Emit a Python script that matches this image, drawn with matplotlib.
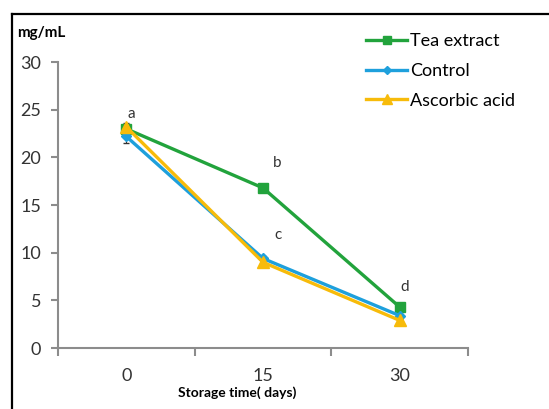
import matplotlib

matplotlib.use("Agg")
import matplotlib.pyplot as plt
from matplotlib.lines import Line2D

plt.rcParams["font.family"] = ["Lato", "DejaVu Sans"]

# data
days = [0, 15, 30]
tea_extract = [23.0, 16.8, 4.3]
control = [22.2, 9.4, 3.4]
ascorbic_acid = [23.2, 9.0, 2.9]
tea_err = [0.3, 0.2, 0.2]
control_err = [0.7, 0.3, 0.2]
ascorbic_err = [0.4, 0.2, 0.2]
letters = ["a", "b", "c", "d"]
letter_x = [0.6, 16.5, 16.6, 30.5]
letter_y = [24.6, 19.4, 11.9, 6.4]

green = "#22a33c"
blue = "#1ea0dc"
yellow = "#f7bb0a"
axis_grey = "#8c8c8c"

fig = plt.figure(figsize=(5.49, 4.09), dpi=100)
ax = fig.add_axes([0.1056, 0.149, 0.747, 0.699])

series = [
    (tea_extract, tea_err, green, "s", 7, "Tea extract"),
    (control, control_err, blue, "D", 5, "Control"),
    (ascorbic_acid, ascorbic_err, yellow, "^", 8, "Ascorbic acid"),
]
handles = []
for vals, err, col, mk, ms, lab in series:
    ax.errorbar(days, vals, yerr=err, color=col, lw=2.4, marker=mk, ms=ms,
                ecolor="#333333", elinewidth=0.8, capsize=2.5)
    handles.append(Line2D([], [], color=col, lw=2.4, marker=mk, ms=ms - 1, label=lab))

for t, lx, ly in zip(letters, letter_x, letter_y):
    ax.text(lx, ly, t, fontsize=11, color="#333333", ha="center", va="center")

ax.set_xlim(-7.5, 37.5)
ax.set_ylim(0, 30)
ax.set_xticks([-7.5, 7.5, 22.5, 37.5])
ax.set_xticklabels([])
ax.set_xticks(days, minor=True)
ax.set_xticklabels([str(d) for d in days], minor=True)
ax.tick_params(axis="x", which="minor", length=0, pad=14, labelsize=13, labelcolor="#333333")
ax.tick_params(axis="x", which="major", length=6, width=1.5, color=axis_grey)
ax.set_yticks([0, 5, 10, 15, 20, 25, 30])
ax.tick_params(axis="y", length=5, width=1.5, color=axis_grey, labelsize=13,
               labelcolor="#333333", pad=7)
for s in ["top", "right"]:
    ax.spines[s].set_visible(False)
for s in ["left", "bottom"]:
    ax.spines[s].set_color(axis_grey)
    ax.spines[s].set_linewidth(1.5)

fig.text(0.031, 0.919, "mg/mL", fontsize=11, fontweight="bold", ha="left", va="center")
fig.text(0.432, 0.039, "Storage time( days)", fontsize=10, fontweight="bold",
         ha="center", va="center")

fig.legend(handles=handles, loc="upper left", bbox_to_anchor=(0.637, 0.958), frameon=False,
           fontsize=13, handlelength=2.3, handletextpad=0.15, labelspacing=0.75)

# frame lines on top and left as in the source image
fig.add_artist(Line2D([0.022, 1.0], [0.966, 0.966], color="black", lw=1.6))
fig.add_artist(Line2D([0.022, 0.022], [0.0, 0.966], color="black", lw=1.6))

fig.savefig("out.png", dpi=100)
